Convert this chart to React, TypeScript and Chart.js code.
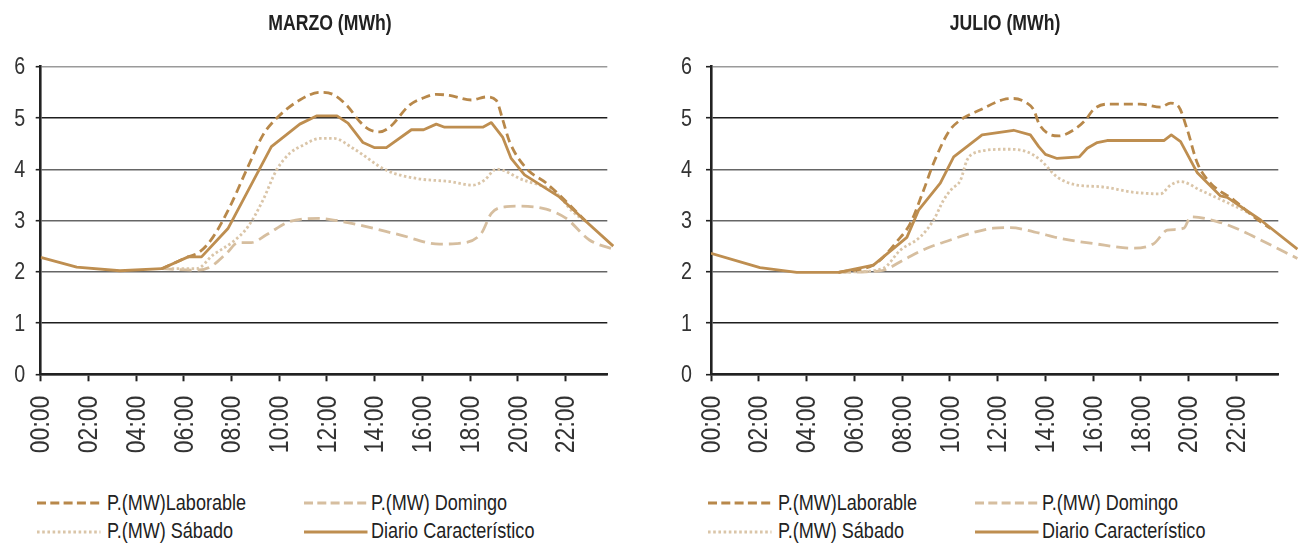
import React, { useEffect, useRef } from "react";
import { Chart, registerables } from "chart.js";
Chart.register(...registerables);

// ---------- data ----------
const X_TICK_HOURS = [0, 2, 4, 6, 8, 10, 12, 14, 16, 18, 20, 22];
const X_TICK_LABELS = ["00:00", "02:00", "04:00", "06:00", "08:00", "10:00", "12:00", "14:00", "16:00", "18:00", "20:00", "22:00"];
const Y_TICKS = [0, 1, 2, 3, 4, 5, 6];
const X_MAX = 23.75;

const SERIES_NAMES = ["P.(MW)Laborable", "P.(MW) Domingo", "P.(MW) Sábado", "Diario Característico"];

const MARZO_LABORABLE: [number, number][] = [
  [5.07, 2.06], [6.18, 2.29], [6.67, 2.39], [7.23, 2.68], [7.93, 3.27], [8.69, 4.05], [9.32, 4.67], [9.88, 4.99],
  [10.86, 5.35], [11.7, 5.5], [12.25, 5.46], [12.88, 5.22], [13.37, 4.93], [13.79, 4.77], [14.21, 4.73], [14.63, 4.82],
  [15.46, 5.25], [16.09, 5.4], [16.58, 5.46], [17.14, 5.44], [18.05, 5.35], [18.68, 5.41], [19.1, 5.34], [19.37, 4.96],
  [19.65, 4.54], [20.35, 4.02], [21.19, 3.73], [21.67, 3.53], [22.86, 2.98],
];
const MARZO_DOMINGO: [number, number][] = [
  [5.07, 2.06], [6.53, 2.03], [7.09, 2.09], [7.79, 2.36], [8.28, 2.57], [8.83, 2.57], [9.46, 2.72], [10.44, 2.98],
  [11.7, 3.04], [12.39, 3.0], [13.65, 2.88], [15.05, 2.72], [16.72, 2.54], [17.42, 2.55], [18.47, 2.75], [18.89, 3.14],
  [19.52, 3.27], [19.93, 3.28], [21.19, 3.22], [22.03, 3.04], [23.0, 2.62], [24.0, 2.44],
];
const MARZO_SABADO: [number, number][] = [
  [5.07, 2.06], [6.53, 2.06], [7.23, 2.33], [8.07, 2.59], [8.69, 2.88], [9.32, 3.4], [9.88, 3.98], [10.44, 4.31],
  [11.0, 4.47], [11.7, 4.6], [12.3, 4.6], [13.09, 4.41], [14.49, 3.98], [15.75, 3.82], [17.14, 3.76], [18.12, 3.69],
  [18.61, 3.79], [19.1, 4.0], [19.37, 3.98], [20.07, 3.82], [21.61, 3.53], [22.3, 3.17], [22.86, 2.98],
];
const MARZO_DIARIO: [number, number][] = [
  [0, 2.28], [1.51, 2.09], [3.32, 2.02], [5.07, 2.06], [6.18, 2.29], [6.74, 2.29], [7.86, 2.85], [9.67, 4.44],
  [10.86, 4.88], [11.56, 5.04], [12.42, 5.04], [12.88, 4.9], [13.51, 4.52], [14.0, 4.42], [14.49, 4.42], [15.54, 4.77],
  [16.05, 4.77], [16.58, 4.88], [16.93, 4.82], [18.53, 4.82], [18.89, 4.91], [19.37, 4.62], [19.72, 4.21], [20.28, 3.89],
  [21.74, 3.46], [22.86, 2.98], [24.0, 2.5],
];

const JULIO_LABORABLE: [number, number][] = [
  [5.34, 1.99], [6.8, 2.13], [7.22, 2.29], [7.78, 2.59], [8.34, 2.94], [8.9, 3.59], [9.32, 4.12], [9.95, 4.73],
  [10.44, 4.96], [11.28, 5.16], [12.25, 5.36], [12.67, 5.38], [13.23, 5.29], [13.51, 5.16], [13.72, 4.9], [14.07, 4.71],
  [14.56, 4.65], [15.19, 4.77], [15.68, 4.96], [16.02, 5.17], [16.58, 5.27], [17.98, 5.27], [18.82, 5.21], [19.24, 5.29],
  [19.58, 5.22], [19.94, 4.77], [20.36, 4.12], [20.91, 3.73], [21.89, 3.4], [22.73, 3.07], [23.43, 2.84],
];
const JULIO_DOMINGO: [number, number][] = [
  [5.34, 1.99], [6.5, 2.0], [7.22, 2.03], [8.06, 2.23], [9.04, 2.46], [10.02, 2.62], [10.86, 2.75], [11.83, 2.85],
  [12.54, 2.86], [13.51, 2.78], [14.63, 2.65], [16.02, 2.55], [17.7, 2.46], [18.54, 2.55], [19.1, 2.81], [19.8, 2.85],
  [20.08, 3.07], [21.19, 2.98], [22.17, 2.81], [23.01, 2.62], [24.55, 2.26],
];
const JULIO_SABADO: [number, number][] = [
  [5.34, 1.99], [6.11, 2.0], [7.22, 2.07], [7.92, 2.42], [8.76, 2.68], [9.32, 3.01], [9.74, 3.4], [10.09, 3.62],
  [10.44, 3.78], [10.72, 4.18], [11.1, 4.33], [12.39, 4.39], [13.23, 4.34], [13.79, 4.18], [14.49, 3.85], [15.33, 3.69],
  [16.3, 3.66], [17.7, 3.55], [18.82, 3.52], [19.24, 3.69], [19.66, 3.76], [20.49, 3.59], [21.61, 3.35], [22.6, 3.13],
];
const JULIO_DIARIO: [number, number][] = [
  [0, 2.36], [2.05, 2.08], [3.59, 1.99], [5.34, 1.99], [6.8, 2.13], [8.2, 2.67], [8.69, 3.2], [9.6, 3.73],
  [10.16, 4.24], [11.35, 4.67], [12.67, 4.76], [13.37, 4.67], [13.72, 4.44], [14.0, 4.29], [14.49, 4.21], [15.42, 4.24],
  [15.75, 4.41], [16.17, 4.52], [16.58, 4.56], [18.96, 4.56], [19.27, 4.67], [19.66, 4.54], [20.36, 3.93], [21.33, 3.48],
  [21.61, 3.45], [23.01, 3.01], [24.55, 2.44],
];

// ---------- styles ----------
const SANS = "'Liberation Sans', Arial, Helvetica, sans-serif";
const NARROW_SCALE = 0.82;
const STYLES = [
  { color: "#B8884A", dash: [9, 5], smooth: true, order: 1, legendDash: "9 4.3" },
  { color: "#D6BE9F", dash: [12, 6], smooth: true, order: 3, legendDash: "9 4.3" },
  { color: "#DAC5A8", dash: [2.5, 2.5], smooth: true, order: 2, legendDash: "2.6 2.6" },
  { color: "#BE8E50", dash: [], smooth: false, order: 0, legendDash: "" },
];

function gridColor(v: number) {
  if (v === 6) return "#9a9a9a";
  if (v === 5 || v === 1) return "#1e1e1e";
  return "#666666";
}

// draws the tick labels of the library's scales in a condensed face
const narrowLabels = {
  id: "narrowLabels",
  afterDraw(chart: any, _args: any, opts: any) {
    const ctx = chart.ctx;
    const xs = chart.scales.x;
    const ys = chart.scales.y;
    const area = chart.chartArea;
    ctx.save();
    ctx.fillStyle = "#333";
    ctx.font = `28px ${SANS}`;
    ctx.textAlign = "right";
    ctx.textBaseline = "middle";
    xs.ticks.forEach((t: any, i: number) => {
      const px = xs.getPixelForValue(t.value);
      ctx.save();
      ctx.translate(px + 1, area.bottom + 21.4);
      ctx.rotate(-Math.PI / 2);
      ctx.scale(NARROW_SCALE, 1);
      ctx.fillText(X_TICK_LABELS[i], 0, 0);
      ctx.restore();
    });
    ctx.font = `24px ${SANS}`;
    ys.ticks.forEach((t: any) => {
      const py = ys.getPixelForValue(t.value);
      ctx.save();
      ctx.translate(area.left - opts.gap, py + 1);
      ctx.scale(NARROW_SCALE, 1);
      ctx.fillText(String(t.value), 0, 0);
      ctx.restore();
    });
    ctx.restore();
  },
};

type PanelProps = {
  left: number;
  width: number;
  axisWidth: number;
  padRight: number;
  labelGap: number;
  series: [number, number][][];
};

function LineChart({ left, width, axisWidth, padRight, labelGap, series }: PanelProps) {
  const ref = useRef<HTMLCanvasElement>(null);
  useEffect(() => {
    const chart = new Chart(ref.current!, {
      type: "line",
      data: {
        datasets: STYLES.map((s, i) => ({
          label: SERIES_NAMES[i],
          data: series[i].map(([x, y]) => ({ x, y })),
          borderColor: s.color,
          borderWidth: 2.8,
          borderDash: s.dash,
          borderCapStyle: "butt",
          borderJoinStyle: "round",
          pointRadius: 0,
          tension: s.smooth ? 0.4 : 0,
          cubicInterpolationMode: s.smooth ? "monotone" : "default",
          fill: false,
          order: s.order,
          clip: { left: 0, top: 0, right: 25, bottom: 0 },
        })) as any,
      },
      plugins: [narrowLabels as any],
      options: {
        responsive: false,
        animation: false,
        events: [],
        layout: { padding: { left: 0, top: 66.7, right: padRight, bottom: 0 } },
        plugins: {
          legend: { display: false },
          tooltip: { enabled: false },
          title: { display: false },
          narrowLabels: { gap: labelGap },
        },
        scales: {
          x: {
            type: "linear",
            min: 0,
            max: X_MAX,
            afterBuildTicks: (s: any) => {
              s.ticks = X_TICK_HOURS.map((v) => ({ value: v }));
            },
            afterFit: (s: any) => {
              s.height = 85.7;
            },
            ticks: { display: false, autoSkip: false },
            grid: { drawOnChartArea: false, drawTicks: true, tickLength: 7, tickColor: "#222", tickWidth: 2 },
            border: { display: true, color: "#222", width: 2.6 },
          },
          y: {
            min: 0,
            max: 6,
            afterBuildTicks: (s: any) => {
              s.ticks = Y_TICKS.map((v) => ({ value: v }));
            },
            afterFit: (s: any) => {
              s.width = axisWidth;
            },
            ticks: { display: false },
            grid: {
              color: (ctx: any) => gridColor(ctx.tick ? ctx.tick.value : -1),
              lineWidth: 1.4,
              tickLength: 5,
              tickColor: "#222",
              tickWidth: 1.6,
            },
            border: { display: true, color: "#222", width: 2.6 },
          },
        },
      } as any,
    });
    return () => chart.destroy();
  }, []);
  return (
    <canvas
      ref={ref}
      width={width}
      height={460}
      style={{ position: "absolute", left, top: 0, width, height: 460 }}
    />
  );
}

function Title({ text, center }: { text: string; center: number }) {
  return (
    <div
      style={{
        position: "absolute",
        left: center - 150,
        width: 300,
        top: 12.5,
        textAlign: "center",
        fontFamily: SANS,
        fontWeight: "bold",
        fontSize: 21.5,
        lineHeight: "21.5px",
        color: "#222",
        whiteSpace: "nowrap",
        transform: `scaleX(${NARROW_SCALE})`,
        transformOrigin: "center",
      }}
    >
      {text}
    </div>
  );
}

function Legend({ offset }: { offset: number }) {
  const cols = [36.7, 304];
  const textGap = [70.5, 67];
  const rows = [503.3, 531.5];
  return (
    <>
      {SERIES_NAMES.map((name, i) => {
        const col = i % 2;
        const row = Math.floor(i / 2);
        const x = offset + cols[col];
        const y = rows[row];
        const s = STYLES[i];
        return (
          <React.Fragment key={name}>
            <svg style={{ position: "absolute", left: x, top: y - 5 }} width={64} height={10}>
              <line
                x1={0}
                y1={5}
                x2={63.5}
                y2={5}
                stroke={s.color}
                strokeWidth={3}
                strokeDasharray={s.legendDash || undefined}
              />
            </svg>
            <div
              style={{
                position: "absolute",
                left: x + textGap[col],
                top: y - 11.8,
                fontFamily: SANS,
                fontSize: 22,
                lineHeight: "22px",
                color: "#222",
                whiteSpace: "nowrap",
                transform: `scaleX(${NARROW_SCALE})`,
                transformOrigin: "left center",
              }}
            >
              {name}
            </div>
          </React.Fragment>
        );
      })}
    </>
  );
}

export default function App() {
  return (
    <div
      style={{
        position: "fixed",
        left: 0,
        top: 0,
        width: 1299,
        height: 545,
        background: "#fff",
        overflow: "hidden",
      }}
    >
      <LineChart
        left={0}
        width={650}
        axisWidth={40.7}
        padRight={42.7}
        labelGap={15.5}
        series={[MARZO_LABORABLE, MARZO_DOMINGO, MARZO_SABADO, MARZO_DIARIO]}
      />
      <LineChart
        left={650}
        width={649}
        axisWidth={61}
        padRight={20.7}
        labelGap={19}
        series={[JULIO_LABORABLE, JULIO_DOMINGO, JULIO_SABADO, JULIO_DIARIO]}
      />
      <Title text="MARZO (MWh)" center={330} />
      <Title text="JULIO (MWh)" center={1005} />
      <Legend offset={0} />
      <Legend offset={671} />
    </div>
  );
}
